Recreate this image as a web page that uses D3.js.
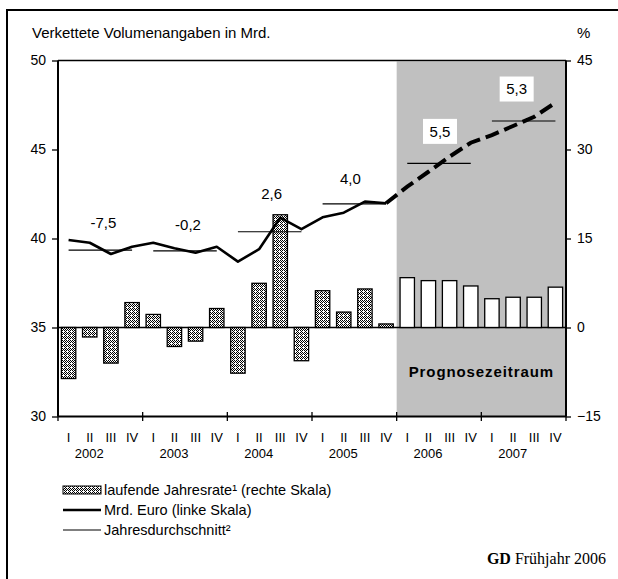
<!DOCTYPE html>
<html lang="de">
<head>
<meta charset="utf-8">
<title>Verkettete Volumenangaben</title>
<style>
body { margin: 0; background: #fff; }
svg text { font-family: "Liberation Sans", Arial, sans-serif; fill: #000; }
</style>
</head>
<body>
<svg width="618" height="579"></svg>

<script src="https://cdnjs.cloudflare.com/ajax/libs/d3/7.8.5/d3.min.js"></script>
<script>
// chart data
var years = ["2002", "2003", "2004", "2005", "2006", "2007"];
var quarters = ["I", "II", "III", "IV"];
var firstForecastYear = "2006";

// laufende Jahresrate in % (right scale), one per quarter
var jahresrate = [-8.6, -1.6, -6.0, 4.2,
                  2.2, -3.2, -2.3, 3.2,
                  -7.7, 7.45, 19.0, -5.6,
                  6.2, 2.6, 6.5, 0.6,
                  8.4, 7.9, 7.9, 7.0,
                  4.85, 5.1, 5.1, 6.8];

// Mrd. Euro (left scale), one per quarter
var mrdEuro = [39.92, 39.76, 39.13, 39.54,
               39.76, 39.45, 39.2, 39.54,
               38.7, 39.4, 41.17, 40.53,
               41.19, 41.45, 42.07, 41.98,
               42.91, 43.75, 44.6, 45.38,
               45.81, 46.32, 46.84, 47.63];

// Jahresdurchschnitt (left scale) and annual change labels
var jahresdurchschnitt = [39.35, 39.31, 40.38, 41.94, 44.22, 46.6];
var veraenderung = ["-7,5", "-0,2", "2,6", "4,0", "5,5", "5,3"];

var leftTicks = [30, 35, 40, 45, 50];
var rightTicks = [-15, 0, 15, 30, 45];

// layout only: where each annual label sits relative to its average line
var labelOffset = [[3, -27], [3, -26], [2, -38], [-4, -25], [1, -32], [-7, -32]];

var svg = d3.select("svg");
var plotLeft = 58, plotRight = 566, plotTop = 60.5, plotBottom = 416.5;

var periods = [];
years.forEach(function(y) {
    quarters.forEach(function(q) { periods.push(y + "-" + q); });
});

var x = d3.scaleBand().domain(periods).range([plotLeft, plotRight])
    .paddingInner(0.32).paddingOuter(0.16);
var xYear = d3.scaleBand().domain(years).range([plotLeft, plotRight]);
var yL = d3.scaleLinear().domain([30, 50]).range([plotBottom, plotTop]);
var yR = d3.scaleLinear().domain([-15, 45]).range([plotBottom, plotTop]);
function cx(p) { return x(p) + x.bandwidth() / 2; }

// dotted fill for the history bars
var defs = svg.append("defs");
var pat = defs.append("pattern").attr("id", "dots")
    .attr("width", 4).attr("height", 4).attr("patternUnits", "userSpaceOnUse");
pat.append("rect").attr("width", 4).attr("height", 4).attr("fill", "#fff");
[[0, 0], [2, 0], [1, 1], [3, 1], [0, 2], [2, 2], [1, 3]].forEach(function(d) {
    pat.append("rect").attr("x", d[0]).attr("y", d[1])
        .attr("width", 1).attr("height", 1).attr("fill", "#000");
});

// outer frame
svg.append("rect").attr("x", 7).attr("y", 10).attr("width", 700).attr("height", 700)
    .attr("fill", "none").attr("stroke", "#000").attr("stroke-width", 2);

// headings
svg.append("text").attr("x", 32).attr("y", 33).attr("dy", "0.35em")
    .style("font-size", "15px").text("Verkettete Volumenangaben in Mrd.");
svg.append("text").attr("x", 577).attr("y", 33).attr("dy", "0.35em")
    .style("font-size", "15px").text("%");

// forecast shading
var xf = xYear(firstForecastYear);
svg.append("rect")
    .attr("x", xf).attr("y", plotTop + 1)
    .attr("width", plotRight - xf).attr("height", plotBottom - plotTop - 1)
    .attr("fill", "#c0c0c0");

svg.append("text")
    .attr("x", xf + (plotRight - xf) / 2)
    .attr("y", yR(-7.5)).attr("dy", "0.35em").attr("text-anchor", "middle")
    .style("font-size", "15px").style("font-weight", "bold").style("letter-spacing", "0.9px")
    .text("Prognosezeitraum");

// zero line of the bar scale
svg.append("line").attr("x1", plotLeft).attr("x2", plotRight)
    .attr("y1", yR(0)).attr("y2", yR(0)).attr("stroke", "#000").attr("stroke-width", 1.5);

// bars
svg.append("g").selectAll("rect").data(jahresrate).join("rect")
    .attr("x", function(d, i) { return x(periods[i]); })
    .attr("width", x.bandwidth())
    .attr("y", function(d) { return yR(Math.max(0, d)); })
    .attr("height", function(d) { return Math.abs(yR(d) - yR(0)); })
    .attr("fill", function(d, i) {
        return periods[i].slice(0, 4) >= firstForecastYear ? "#fff" : "url(#dots)";
    })
    .attr("stroke", "#000").attr("stroke-width", 1.3);

// annual averages
svg.append("g").selectAll("line").data(jahresdurchschnitt).join("line")
    .attr("x1", function(d, i) { return cx(years[i] + "-I"); })
    .attr("x2", function(d, i) { return cx(years[i] + "-IV"); })
    .attr("y1", function(d) { return yL(d); })
    .attr("y2", function(d) { return yL(d); })
    .attr("stroke", "#000").attr("stroke-width", 1.2);

// Mrd. Euro line: solid history, dashed forecast
var pts = mrdEuro.map(function(d, i) { return [cx(periods[i]), yL(d)]; });
var cut = periods.indexOf(firstForecastYear + "-I") - 1;
var line = d3.line();
svg.append("path").attr("d", line(pts.slice(0, cut + 1)))
    .attr("fill", "none").attr("stroke", "#000").attr("stroke-width", 2.6)
    .attr("stroke-linejoin", "round");
svg.append("path").attr("d", line(pts.slice(cut)))
    .attr("fill", "none").attr("stroke", "#000").attr("stroke-width", 4)
    .attr("stroke-dasharray", "14,6");

// annual change labels
var lab = svg.append("g").selectAll("g").data(veraenderung).join("g")
    .attr("transform", function(d, i) {
        var lx = xYear(years[i]) + xYear.bandwidth() / 2 + labelOffset[i][0];
        var ly = yL(jahresdurchschnitt[i]) + labelOffset[i][1];
        return "translate(" + lx + "," + ly + ")";
    });
lab.filter(function(d, i) { return years[i] >= firstForecastYear; })
    .append("rect").attr("x", -17).attr("y", -12.5).attr("width", 34).attr("height", 25)
    .attr("fill", "#fff");
lab.append("text").attr("text-anchor", "middle").attr("dy", "0.35em")
    .style("font-size", "15px").text(function(d) { return d; });

// axes
var axL = svg.append("g").attr("transform", "translate(" + plotLeft + ",0)")
    .call(d3.axisLeft(yL).tickValues(leftTicks).tickSize(6).tickPadding(6));
var axR = svg.append("g").attr("transform", "translate(" + plotRight + ",0)")
    .call(d3.axisRight(yR).tickValues(rightTicks).tickSize(5).tickPadding(6));
[axL, axR].forEach(function(a) {
    a.select(".domain").remove();
    a.selectAll("line").attr("stroke-width", 1.3);
    a.selectAll("text").style("font-size", "14px")
        .style("font-family", "'Liberation Sans', Arial, sans-serif");
});
svg.append("line").attr("x1", plotLeft).attr("x2", plotLeft).attr("y1", plotTop).attr("y2", plotBottom)
    .attr("stroke", "#000").attr("stroke-width", 2);
svg.append("line").attr("x1", plotRight).attr("x2", plotRight).attr("y1", plotTop).attr("y2", plotBottom)
    .attr("stroke", "#000").attr("stroke-width", 2);
svg.append("line").attr("x1", plotLeft).attr("x2", plotRight).attr("y1", plotTop).attr("y2", plotTop)
    .attr("stroke", "#000").attr("stroke-width", 1.5);
svg.append("line").attr("x1", plotLeft).attr("x2", plotRight).attr("y1", plotBottom).attr("y2", plotBottom)
    .attr("stroke", "#000").attr("stroke-width", 2);

// year boundary ticks crossing the bottom axis
var bounds = years.map(function(y) { return xYear(y); }).concat([plotRight]);
svg.append("g").selectAll("line").data(bounds).join("line")
    .attr("x1", function(d) { return d; }).attr("x2", function(d) { return d; })
    .attr("y1", plotBottom - 4.5).attr("y2", plotBottom + 4.5)
    .attr("stroke", "#000").attr("stroke-width", 1.3);

// quarter and year labels
svg.append("g").selectAll("text").data(periods).join("text")
    .attr("x", function(p) { return cx(p); }).attr("y", 437).attr("dy", "0.35em")
    .attr("text-anchor", "middle").style("font-size", "13px")
    .text(function(p) { return p.split("-")[1]; });
svg.append("g").selectAll("text").data(years).join("text")
    .attr("x", function(y) { return xYear(y) + xYear.bandwidth() / 2 - 11; })
    .attr("y", 453).attr("dy", "0.35em")
    .attr("text-anchor", "middle").style("font-size", "13px")
    .text(function(y) { return y; });

// legend
var leg = svg.append("g");
leg.append("rect").attr("x", 63).attr("y", 486).attr("width", 38).attr("height", 8)
    .attr("fill", "url(#dots)").attr("stroke", "#000").attr("stroke-width", 1);
leg.append("line").attr("x1", 63).attr("x2", 101).attr("y1", 510).attr("y2", 510)
    .attr("stroke", "#000").attr("stroke-width", 2.6);
leg.append("line").attr("x1", 63).attr("x2", 101).attr("y1", 530).attr("y2", 530)
    .attr("stroke", "#000").attr("stroke-width", 1.2);
var legTexts = ["laufende Jahresrate\u00b9 (rechte Skala)", "Mrd. Euro (linke Skala)", "Jahresdurchschnitt\u00b2"];
leg.selectAll("text").data(legTexts).join("text")
    .attr("x", 104).attr("y", function(d, i) { return 490 + i * 20; }).attr("dy", "0.35em")
    .style("font-size", "14.5px").text(function(d) { return d; });

// source
var src = svg.append("text").attr("x", 606).attr("y", 558).attr("dy", "0.35em")
    .attr("text-anchor", "end")
    .style("font-family", "'Liberation Serif', 'Times New Roman', serif").style("font-size", "16px");
src.append("tspan").style("font-weight", "bold").text("GD");
src.append("tspan").text(" Fr\u00fchjahr 2006");
</script>
</body>
</html>
